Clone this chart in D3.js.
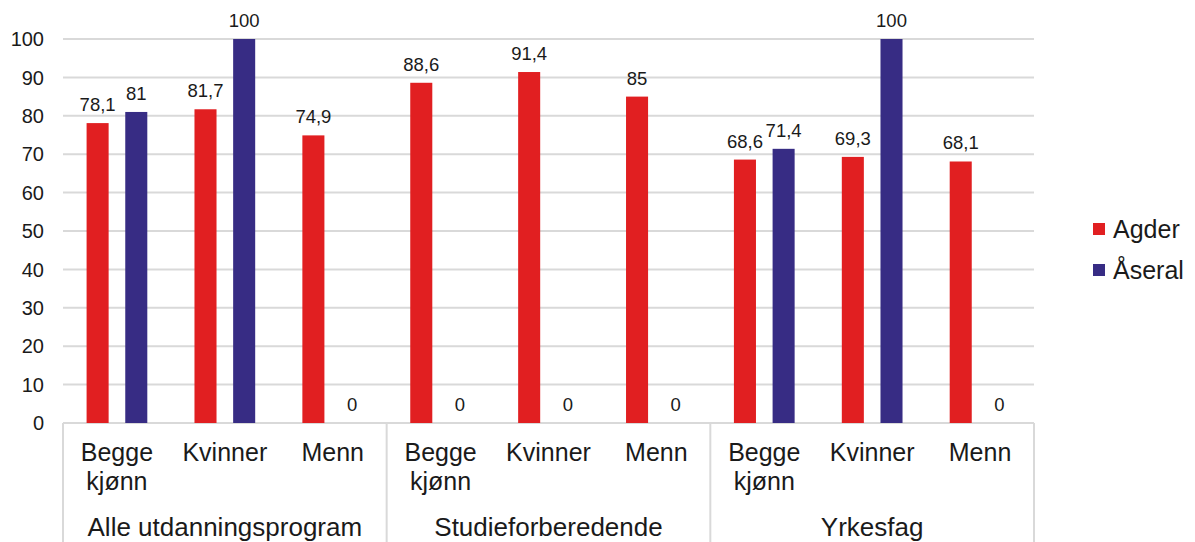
<!DOCTYPE html>
<html>
<head>
<meta charset="utf-8">
<script src="https://cdn.jsdelivr.net/npm/d3@7"></script>
<style>
  html, body { margin: 0; padding: 0; background: #fff; }
  svg { display: block; font-family: "Liberation Sans", Arial, sans-serif; }
</style>
</head>
<body>
<svg id="chart" width="1195" height="542"></svg>
<script>
// ---- data ----
const groups = ["Alle utdanningsprogram", "Studieforberedende", "Yrkesfag"];
const subCategories = [["Begge", "kjønn"], ["Kvinner"], ["Menn"]];
const seriesNames = ["Agder", "Åseral"];
const agder  = [78.1, 81.7, 74.9, 88.6, 91.4, 85, 68.6, 69.3, 68.1];
const aseral = [81, 100, 0, 0, 0, 0, 71.4, 100, 0];
const yTicks = [0, 10, 20, 30, 40, 50, 60, 70, 80, 90, 100];
const colors = ["#e11f21", "#372c84"];

(function () {
// ---- layout ----
const svg = d3.select("#chart");
const plotLeft = 63, plotRight = 1034, plotTop = 39, plotBottom = 423;
const gridColor = "#d9d9d9";

const cats = [];
groups.forEach((g, gi) => subCategories.forEach((s, si) => cats.push({ id: gi * 3 + si, group: g, label: s })));

const x0 = d3.scaleBand().domain(cats.map(c => c.id)).range([plotLeft, plotRight]).padding(0);
const x1 = d3.scaleBand().domain([0, 1]).range([0, x0.bandwidth()]).paddingInner(0.43).paddingOuter(0.61);
const y = d3.scaleLinear().domain([0, 100]).range([plotBottom, plotTop]);

// gridlines
svg.append("g").selectAll("line").data(yTicks).join("line")
  .attr("x1", plotLeft).attr("x2", plotRight)
  .attr("y1", d => y(d)).attr("y2", d => y(d))
  .attr("stroke", gridColor).attr("stroke-width", 2);

// y axis labels
svg.append("g").selectAll("text").data(yTicks).join("text")
  .attr("x", 44).attr("y", d => y(d))
  .attr("dy", "0.36em")
  .attr("text-anchor", "end")
  .attr("font-size", 20).attr("fill", "#1a1a1a")
  .text(d => d);

// bars
const series = [agder, aseral];
series.forEach((vals, si) => {
  const g = svg.append("g");
  g.selectAll("rect").data(vals).join("rect")
    .attr("x", (d, i) => x0(i) + x1(si))
    .attr("width", x1.bandwidth())
    .attr("y", d => y(d))
    .attr("height", d => y(0) - y(d))
    .attr("fill", colors[si]);
  g.selectAll("text").data(vals).join("text")
    .attr("x", (d, i) => x0(i) + x1(si) + x1.bandwidth() / 2)
    .attr("y", d => y(d) - 12)
    .attr("text-anchor", "middle")
    .attr("font-size", 18.5).attr("fill", "#1a1a1a")
    .text(d => String(d).replace(".", ","));
});

// group boundaries
const groupBounds = [0, 3, 6, 9].map(i => i < 9 ? x0(i) : plotRight);
svg.append("g").selectAll("line").data(groupBounds).join("line")
  .attr("x1", d => d).attr("x2", d => d)
  .attr("y1", plotBottom).attr("y2", 542)
  .attr("stroke", gridColor).attr("stroke-width", 2);

// sub-category labels
const catG = svg.append("g");
cats.forEach(c => {
  const t = catG.append("text")
    .attr("x", x0(c.id) + x0.bandwidth() / 2)
    .attr("y", 461)
    .attr("text-anchor", "middle")
    .attr("font-size", 25).attr("fill", "#1a1a1a");
  c.label.forEach((line, li) => {
    t.append("tspan").attr("x", x0(c.id) + x0.bandwidth() / 2)
      .attr("y", 461 + li * 29).text(line);
  });
});

// group labels
svg.append("g").selectAll("text").data(groups).join("text")
  .attr("x", (d, i) => (groupBounds[i] + groupBounds[i + 1]) / 2)
  .attr("y", 536)
  .attr("text-anchor", "middle")
  .attr("font-size", 26).attr("fill", "#1a1a1a")
  .text(d => d);

// legend
const leg = svg.append("g");
seriesNames.forEach((name, i) => {
  const cy = 229 + i * 41;
  leg.append("rect").attr("x", 1093).attr("y", cy - 6).attr("width", 12).attr("height", 12).attr("fill", colors[i]);
  leg.append("text").attr("x", 1113).attr("y", cy + 8.5)
    .attr("font-size", 25).attr("fill", "#1a1a1a").text(name);
});
})();
</script>
</body>
</html>
